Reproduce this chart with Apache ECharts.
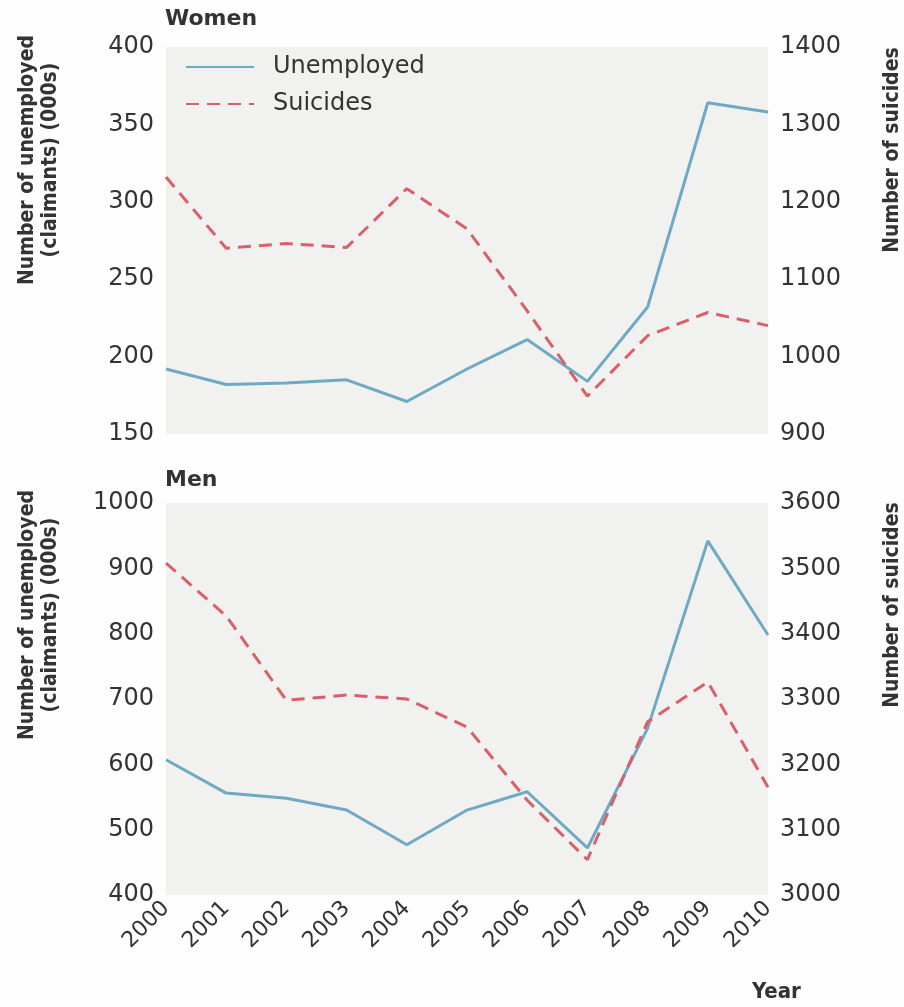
<!DOCTYPE html>
<html>
<head>
<meta charset="utf-8">
<script src="https://cdn.jsdelivr.net/npm/echarts@6/dist/echarts.min.js"></script>
<style>
  html, body { margin: 0; padding: 0; background: #fdfdfd; }
  #chart { width: 904px; height: 1007px; }
</style>
</head>
<body>
<div id="chart"></div>
<script>
  // data
  const years = ['2000', '2001', '2002', '2003', '2004', '2005', '2006', '2007', '2008', '2009', '2010']
  const womenUnemployed = [192, 182, 183, 185, 171, 192, 211, 184, 232, 364, 358]
  const womenSuicides = [1232, 1140, 1146, 1141, 1217, 1165, 1059, 949, 1027, 1057, 1040]
  const menUnemployed = [607, 556, 548, 530, 477, 530, 558, 472, 655, 942, 798]
  const menSuicides = [3508, 3427, 3298, 3306, 3300, 3257, 3145, 3054, 3265, 3326, 3165]

  const blue = '#6eaac3'
  const red = '#d8606b'
  const ink = '#333'
  const titleFont = 'bold 21px "DejaVu Sans Condensed", "DejaVu Sans"'

  const myChart = echarts.init(document.getElementById('chart'))

  function yAx(gridIndex, min, max, interval, pos) {
    return {
      type: 'value', gridIndex: gridIndex, position: pos,
      min: min, max: max, interval: interval,
      splitLine: { show: false },
      axisLine: { show: false },
      axisTick: { show: false },
      axisLabel: {
        margin: 12, color: ink, fontSize: 24, fontFamily: 'DejaVu Sans',
        formatter: v => String(v)
      }
    }
  }

  function lineSeries(name, x, y, data, dashed) {
    return {
      name: name, type: 'line', xAxisIndex: x, yAxisIndex: y,
      data: data, symbol: 'none', silent: true,
      lineStyle: {
        color: dashed ? red : blue,
        width: 3,
        type: dashed ? [13, 8] : 'solid'
      },
      itemStyle: { color: dashed ? red : blue }
    }
  }

  myChart.setOption({
    backgroundColor: '#fdfdfd',
    animation: false,
    legend: {
      orient: 'vertical',
      left: 180, top: 50,
      itemWidth: 68, itemHeight: 14, itemGap: 13,
      data: ['Unemployed', 'Suicides'],
      itemStyle: { opacity: 0 },
      textStyle: { color: ink, fontSize: 24, fontFamily: 'DejaVu Sans', padding: [0, 0, 0, 14] }
    },
    grid: [
      { left: 166, right: 136, top: 47, height: 387, show: true, backgroundColor: '#f1f1f0', borderWidth: 0 },
      { left: 166, right: 136, top: 503, height: 392, show: true, backgroundColor: '#f1f1f0', borderWidth: 0 }
    ],
    xAxis: [
      {
        type: 'category', gridIndex: 0, data: years, boundaryGap: false,
        axisLine: { show: false }, axisTick: { show: false }, axisLabel: { show: false }
      },
      {
        type: 'category', gridIndex: 1, data: years, boundaryGap: false,
        axisLine: { show: false }, axisTick: { show: false },
        axisLabel: { rotate: 45, margin: 10, color: ink, fontFamily: 'DejaVu Sans', fontSize: 22 }
      }
    ],
    yAxis: [
      yAx(0, 150, 400, 50, 'left'),
      yAx(0, 900, 1400, 100, 'right'),
      yAx(1, 400, 1000, 100, 'left'),
      yAx(1, 3000, 3600, 100, 'right')
    ],
    series: [
      lineSeries('Unemployed', 0, 0, womenUnemployed, false),
      lineSeries('Suicides', 0, 1, womenSuicides, true),
      lineSeries('Unemployed', 1, 2, menUnemployed, false),
      lineSeries('Suicides', 1, 3, menSuicides, true)
    ],
    graphic: [
      { type: 'text', left: 165, top: 8, style: { text: 'Women', font: 'bold 22px "DejaVu Sans"', fill: ink } },
      { type: 'text', left: 165, top: 469, style: { text: 'Men', font: 'bold 22px "DejaVu Sans"', fill: ink } },
      { type: 'text', x: 752, y: 981, style: { text: 'Year', font: 'bold 22px "DejaVu Sans Condensed", "DejaVu Sans"', fill: ink } },
      {
        type: 'text', x: 39, y: 160, rotation: Math.PI / 2,
        style: { text: 'Number of unemployed\n(claimants) (000s)', font: titleFont, fill: ink, align: 'center', verticalAlign: 'middle', lineHeight: 23 }
      },
      {
        type: 'text', x: 39, y: 615, rotation: Math.PI / 2,
        style: { text: 'Number of unemployed\n(claimants) (000s)', font: titleFont, fill: ink, align: 'center', verticalAlign: 'middle', lineHeight: 23 }
      },
      {
        type: 'text', x: 893, y: 150, rotation: Math.PI / 2,
        style: { text: 'Number of suicides', font: titleFont, fill: ink, align: 'center', verticalAlign: 'middle' }
      },
      {
        type: 'text', x: 893, y: 605, rotation: Math.PI / 2,
        style: { text: 'Number of suicides', font: titleFont, fill: ink, align: 'center', verticalAlign: 'middle' }
      }
    ]
  })
</script>
</body>
</html>
